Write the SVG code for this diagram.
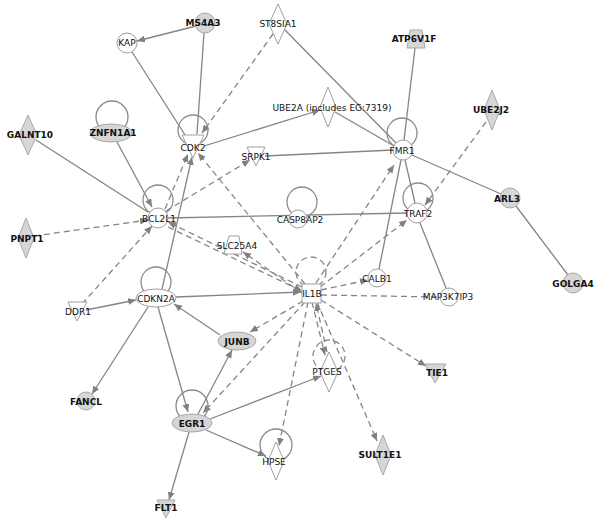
<svg xmlns="http://www.w3.org/2000/svg" width="600" height="523" viewBox="0 0 600 523">
<defs>
<marker id="ah" viewBox="0 0 8 7" refX="8" refY="3.5" markerWidth="8" markerHeight="7" markerUnits="userSpaceOnUse" orient="auto"><path d="M0,0 L8,3.5 L0,7 z" fill="#808080"/></marker>
<style>
.e{stroke:#858585;stroke-width:1.3;fill:none}
.d{stroke:#858585;stroke-width:1.3;fill:none;stroke-dasharray:6 4}
.a{marker-end:url(#ah)}
.w{fill:#fff;stroke:#a0a0a0;stroke-width:1}
.g{fill:#d6d6d6;stroke:#a8a8a8;stroke-width:1}
.loop{fill:none;stroke:#8a8a8a;stroke-width:1.3}
.dloop{fill:none;stroke:#8a8a8a;stroke-width:1.3;stroke-dasharray:6 4}
text{font-family:"DejaVu Sans",Verdana,sans-serif;font-size:9px;fill:#111;text-anchor:middle}
.b{font-weight:bold}
</style>
</defs>
<rect width="600" height="523" fill="#fff"/>
<g id="connectors">
<line class="e a" x1="196" y1="26" x2="137" y2="41"/>
<line class="e" x1="204" y1="33" x2="197" y2="134"/>
<line class="e" x1="132" y1="52" x2="187" y2="138"/>
<line class="e" x1="36" y1="140" x2="148" y2="212"/>
<line class="e a" x1="117" y1="142" x2="152" y2="207"/>
<line class="e a" x1="204" y1="146" x2="320" y2="110"/>
<line class="e" x1="285" y1="30" x2="396" y2="143"/>
<line class="e" x1="335" y1="112" x2="394" y2="146"/>
<line class="e" x1="265" y1="156" x2="393" y2="150"/>
<line class="e" x1="415" y1="48" x2="404" y2="140"/>
<line class="e" x1="412" y1="155" x2="501" y2="194"/>
<line class="e" x1="405" y1="160" x2="415" y2="203"/>
<line class="e" x1="401" y1="160" x2="379" y2="269"/>
<line class="e" x1="420" y1="223" x2="446" y2="288"/>
<line class="e" x1="516" y1="206" x2="568" y2="275"/>
<line class="e" x1="168" y1="218" x2="407" y2="213"/>
<line class="e a" x1="176" y1="297" x2="301" y2="292"/>
<line class="e a" x1="86" y1="310" x2="136" y2="300"/>
<line class="e a" x1="162" y1="289" x2="192" y2="157"/>
<line class="e a" x1="220" y1="335" x2="174" y2="304"/>
<line class="e a" x1="148" y1="307" x2="92" y2="394"/>
<line class="e a" x1="158" y1="307" x2="188" y2="412"/>
<line class="e a" x1="198" y1="414" x2="232" y2="350"/>
<line class="e a" x1="210" y1="419" x2="321" y2="376"/>
<line class="e a" x1="206" y1="430" x2="266" y2="456"/>
<line class="e a" x1="189" y1="432" x2="169" y2="500"/>
<line class="d a" x1="273" y1="34" x2="202" y2="133"/>
<line class="d a" x1="305" y1="284" x2="198" y2="153"/>
<line class="d a" x1="165" y1="209" x2="188" y2="154"/>
<line class="d a" x1="166" y1="211" x2="250" y2="160"/>
<line class="d a" x1="34" y1="236" x2="148" y2="220"/>
<line class="d a" x1="82" y1="304" x2="152" y2="226"/>
<line class="d a" x1="302" y1="287" x2="168" y2="222"/>
<line class="d a" x1="168" y1="227" x2="302" y2="291"/>
<line class="d a" x1="302" y1="293" x2="243" y2="252"/>
<line class="d a" x1="316" y1="283" x2="394" y2="165"/>
<line class="d a" x1="320" y1="287" x2="407" y2="220"/>
<line class="d a" x1="486" y1="122" x2="425" y2="205"/>
<line class="d a" x1="321" y1="290" x2="368" y2="280"/>
<line class="d" x1="321" y1="295" x2="439" y2="297"/>
<line class="d a" x1="303" y1="301" x2="250" y2="332"/>
<line class="d a" x1="305" y1="302" x2="203" y2="413"/>
<line class="d a" x1="308" y1="302" x2="279" y2="446"/>
<line class="d a" x1="312" y1="302" x2="325" y2="355"/>
<line class="d a" x1="327" y1="352" x2="316" y2="303"/>
<line class="d a" x1="317" y1="302" x2="377" y2="441"/>
<line class="d a" x1="321" y1="300" x2="426" y2="366"/>
</g>
<g id="MS4A3"><circle class="g" cx="205" cy="23" r="10"/><text class="b" x="203" y="26">MS4A3</text></g>
<g id="KAP"><circle class="w" cx="127" cy="43" r="10"/><text x="127" y="46">KAP</text></g>
<g id="ST8SIA1"><polygon class="w" points="278,4 287,24 278,44 269,24"/><text x="278" y="27">ST8SIA1</text></g>
<g id="ATP6V1F"><polygon class="g" points="410,30 422,30 425,48 407,48"/><text class="b" x="414" y="42">ATP6V1F</text></g>
<g id="UBE2J2"><polygon class="g" points="492,90 500,110 492,130 484,110"/><text class="b" x="491" y="113">UBE2J2</text></g>
<g id="UBE2A"><polygon class="w" points="328,87 336,107 328,127 320,107"/><text x="332" y="111">UBE2A (includes EG:7319)</text></g>
<g id="ZNFN1A1"><circle class="loop" cx="112" cy="117" r="16"/><ellipse class="g" cx="111" cy="133" rx="21" ry="9"/><text class="b" x="113" y="136">ZNFN1A1</text></g>
<g id="GALNT10"><polygon class="g" points="28,115 37,135 28,155 19,135"/><text class="b" x="30" y="138">GALNT10</text></g>
<g id="CDK2"><circle class="loop" cx="193" cy="130" r="15"/><polygon class="w" points="182,135 204,135 193,158"/><text x="193" y="151">CDK2</text></g>
<g id="SRPK1"><polygon class="w" points="247,147 265,147 256,166"/><text x="256" y="160">SRPK1</text></g>
<g id="FMR1"><circle class="loop" cx="402" cy="133" r="15"/><circle class="w" cx="403" cy="150" r="10"/><text x="402" y="154">FMR1</text></g>
<g id="TRAF2"><circle class="loop" cx="418" cy="198" r="15"/><circle class="w" cx="417" cy="213" r="10"/><text x="418" y="217">TRAF2</text></g>
<g id="ARL3"><circle class="g" cx="510" cy="198" r="10"/><text class="b" x="507" y="202">ARL3</text></g>
<g id="GOLGA4"><circle class="g" cx="573" cy="283" r="10"/><text class="b" x="573" y="287">GOLGA4</text></g>
<g id="BCL2L1"><circle class="loop" cx="158" cy="200" r="15"/><circle class="w" cx="158" cy="218" r="10"/><text x="159" y="222">BCL2L1</text></g>
<g id="CASP8AP2"><circle class="loop" cx="302" cy="202" r="15"/><circle class="w" cx="298" cy="219" r="9"/><text x="300" y="223">CASP8AP2</text></g>
<g id="SLC25A4"><polygon class="w" points="229,236 239,236 242,254 224,254"/><text x="237" y="249">SLC25A4</text></g>
<g id="IL1B"><circle class="dloop" cx="311" cy="272" r="15"/><rect class="w" x="302" y="284" width="19" height="19"/><text x="312" y="297">IL1B</text></g>
<g id="CALB1"><circle class="w" cx="377" cy="278" r="9"/><text x="377" y="282">CALB1</text></g>
<g id="MAP3K7IP3"><circle class="w" cx="449" cy="297" r="9"/><text x="448" y="300">MAP3K7IP3</text></g>
<g id="CDKN2A"><circle class="loop" cx="156" cy="282" r="15"/><ellipse class="w" cx="156" cy="298" rx="20" ry="9"/><text x="156" y="302">CDKN2A</text></g>
<g id="DDR1"><polygon class="w" points="68,302 87,302 77,321"/><text x="78" y="315">DDR1</text></g>
<g id="PNPT1"><polygon class="g" points="26,218 34,238 26,258 18,238"/><text class="b" x="27" y="242">PNPT1</text></g>
<g id="JUNB"><ellipse class="g" cx="237" cy="341" rx="19" ry="9"/><text class="b" x="237" y="345">JUNB</text></g>
<g id="FANCL"><circle class="g" cx="86" cy="401" r="9"/><text class="b" x="86" y="405">FANCL</text></g>
<g id="EGR1"><circle class="loop" cx="192" cy="406" r="16"/><ellipse class="g" cx="192" cy="423" rx="20" ry="9"/><text class="b" x="192" y="427">EGR1</text></g>
<g id="FLT1"><polygon class="g" points="157,500 175,500 166,518"/><text class="b" x="166" y="511">FLT1</text></g>
<g id="PTGES"><circle class="dloop" cx="329" cy="356" r="16"/><polygon class="w" points="329,352 338,372 329,392 320,372"/><text x="327" y="375">PTGES</text></g>
<g id="HPSE"><circle class="loop" cx="276" cy="445" r="16"/><polygon class="w" points="276,442 284,461 276,480 268,461"/><text x="274" y="465">HPSE</text></g>
<g id="SULT1E1"><polygon class="g" points="383,435 391,455 383,475 375,455"/><text class="b" x="380" y="458">SULT1E1</text></g>
<g id="TIE1"><polygon class="g" points="425,364 446,364 435,383"/><text class="b" x="437" y="376">TIE1</text></g>
</svg>
